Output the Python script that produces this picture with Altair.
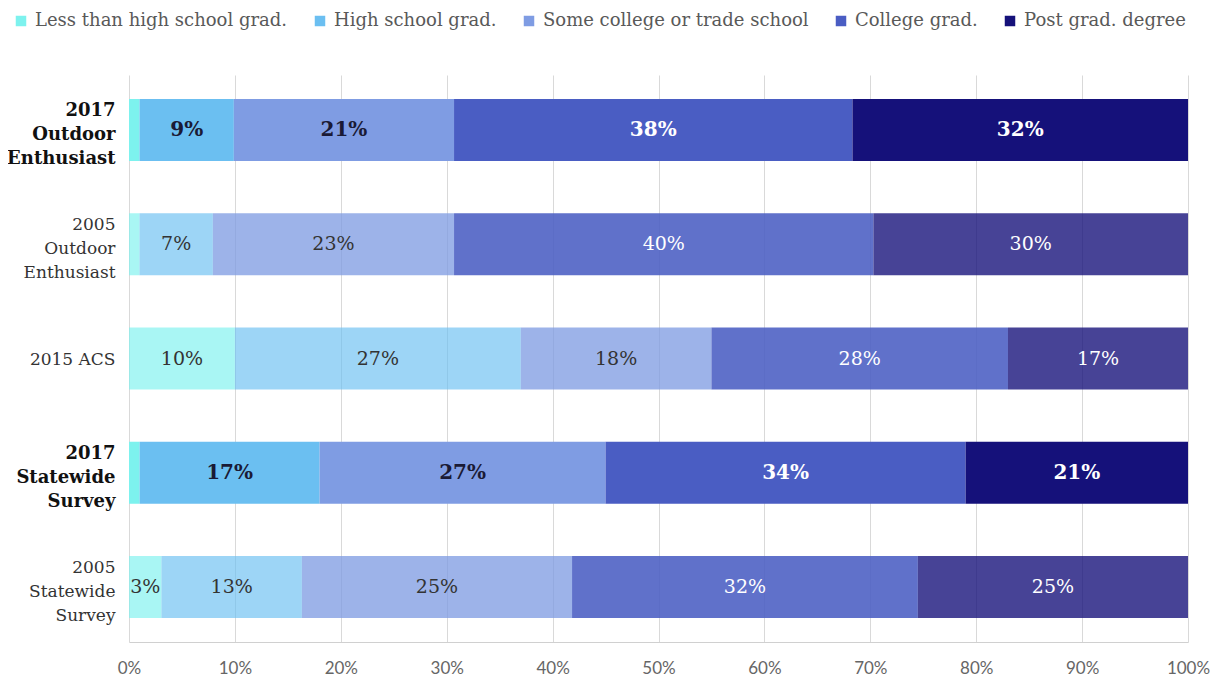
import altair as alt
import pandas as pd

rows = ["2017|Outdoor|Enthusiast", "2005|Outdoor|Enthusiast", "2015 ACS",
        "2017|Statewide|Survey", "2005|Statewide|Survey"]
bold_rows = [True, False, False, True, False]
categories = ["Less than high school grad.", "High school grad.",
              "Some college or trade school", "College grad.", "Post grad. degree"]
less_than_hs = [1, 1, 10, 1, 3]
hs_grad = [9, 7, 27, 17, 13]
some_college = [21, 23, 18, 27, 25]
college_grad = [38, 40, 28, 34, 32]
post_grad = [32, 30, 17, 21, 25]
colors = ["#7df2ee", "#6bbff1", "#7f9ce3", "#4a5dc3", "#15117a"]
light_opacity = [0.66, 0.66, 0.77, 0.88, 0.79]

series = [less_than_hs, hs_grad, some_college, college_grad, post_grad]
records = []
for ci, (cat, vals) in enumerate(zip(categories, series)):
    for ri, (row, b) in enumerate(zip(rows, bold_rows)):
        records.append({"row": row, "bold": b, "cat": cat, "order": ci,
                        "value": vals[ri], "op": 1.0 if b else light_opacity[ci]})
df = pd.DataFrame(records)

base = alt.Chart(df).transform_stack(
    stack="value", groupby=["row"], as_=["x0", "x1"], offset="normalize",
    sort=[alt.SortField("order")]
).transform_calculate(
    mid="(datum.x0 + datum.x1) / 2",
    label="datum.value + '%'",
    tcolor="datum.order >= 3 ? '#ffffff' : (datum.bold ? '#1a1a35' : '#333333')"
)

is_bold = "indexof(datum.value, '2017') === 0"
yenc = alt.Y(
    "row:N", sort=rows,
    scale=alt.Scale(paddingInner=0.457, paddingOuter=0.21),
    axis=alt.Axis(
        title=None, labelExpr="split(datum.label, '|')",
        labelFont="DejaVu Serif", labelLineHeight=24,
        labelPadding=14, ticks=False, domain=False, labelBaseline="middle",
        labelOffset={"condition": {"test": "indexof(datum.value, '|') >= 0", "value": -19}, "value": 1},
        labelFontSize={"condition": {"test": is_bold, "value": 18}, "value": 17},
        labelColor={"condition": {"test": is_bold, "value": "#111111"}, "value": "#333333"},
        labelFontWeight={"condition": {"test": is_bold, "value": "bold"}, "value": "normal"},
    ),
)

bars = base.mark_bar().encode(
    y=yenc,
    x=alt.X(
        "x0:Q", scale=alt.Scale(domain=[0, 1], nice=False),
        axis=alt.Axis(
            title=None, format=".0%", values=[i / 10 for i in range(11)],
            grid=True, gridColor="#d9d9d9", ticks=False, domainColor="#d0d0d0",
            labelFont="Lato", labelFontSize=17, labelColor="#666666", labelPadding=18,
            labelFlush=False, labelOverlap=False,
        ),
    ),
    x2="x1:Q",
    color=alt.Color(
        "cat:N", scale=alt.Scale(domain=categories, range=colors),
        legend=alt.Legend(
            title=None, orient="none", legendX=-117, legendY=-63, direction="horizontal",
            symbolType="square", symbolSize=110, symbolStrokeWidth=0, symbolOpacity=1,
            labelFont="DejaVu Serif", labelFontSize=18, labelColor="#595959",
            labelLimit=0, columnPadding=23, labelOffset=5,
        ),
    ),
    opacity=alt.Opacity("op:Q", scale=None, legend=None),
)

text_base = base.transform_filter("datum.value >= 2")
text_bold = text_base.transform_filter("datum.bold").mark_text(
    font="DejaVu Serif", fontSize=20, fontWeight="bold"
).encode(y=alt.Y("row:N", sort=rows), x="mid:Q", text="label:N",
         color=alt.Color("tcolor:N", scale=None))
text_norm = text_base.transform_filter("!datum.bold").mark_text(
    font="DejaVu Serif", fontSize=19
).encode(y=alt.Y("row:N", sort=rows), x="mid:Q", text="label:N",
         color=alt.Color("tcolor:N", scale=None))

chart = alt.layer(bars, text_bold, text_norm).properties(
    width=1059, height=567,
    autosize=alt.AutoSizeParams(type="none"),
    padding={"left": 121, "top": 67, "right": 22, "bottom": 37},
).configure_view(stroke=None)

chart.save("out.html", embed_options={"renderer": "svg", "actions": False})
